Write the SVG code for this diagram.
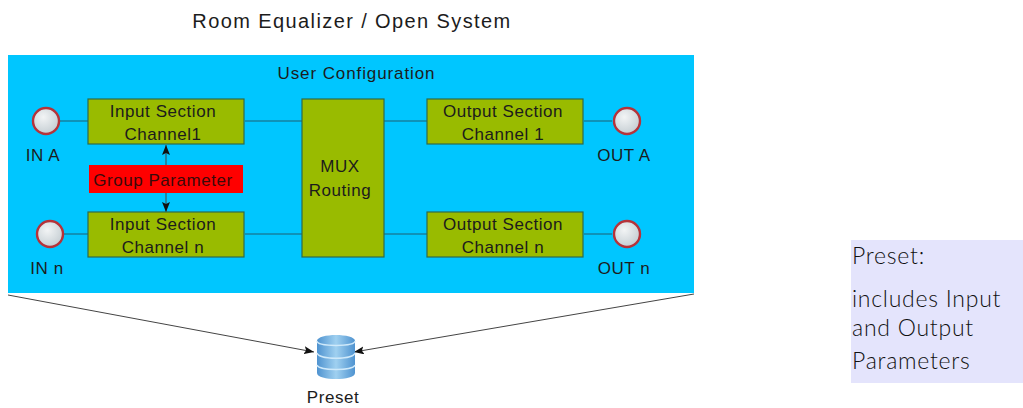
<svg xmlns="http://www.w3.org/2000/svg" width="1023" height="408" viewBox="0 0 1023 408">
<style>
text{font-family:"Liberation Sans",Arial,sans-serif;font-size:17px;letter-spacing:.55px;fill:#1c1c1c;text-anchor:middle}
.box{fill:#99bb00;stroke:#2f6b4a;stroke-width:1.2}
.port{fill:url(#portFill);stroke:#b5333a;stroke-width:2.4}
.wire{stroke:#1f5f73;stroke-width:1.2;fill:none}
.arr{stroke:#444;stroke-width:1;fill:none}
.note{font-family:"Lato","Open Sans",sans-serif;font-size:23px;letter-spacing:.75px;text-anchor:start;font-weight:300;fill:#111}
</style>
<defs>
<radialGradient id="portFill" cx="0.4" cy="0.35" r="0.8"><stop offset="0" stop-color="#f2f4f5"/><stop offset="1" stop-color="#bcc6cc"/></radialGradient>
<linearGradient id="db" x1="0" x2="1" y1="0" y2="0"><stop offset="0" stop-color="#4f93d0"/><stop offset="0.5" stop-color="#9fd0f0"/><stop offset="1" stop-color="#4f93d0"/></linearGradient>
<marker id="ah" markerWidth="11" markerHeight="8" refX="10" refY="4" orient="auto-start-reverse" markerUnits="userSpaceOnUse"><path d="M0 0L10 4L0 8L2 4Z" fill="#111"/></marker>
</defs>
<text x="352" y="28" style="font-size:20px;letter-spacing:1.4px">Room Equalizer / Open System</text>
<rect id="user-config" x="8" y="55" width="686" height="238" fill="#00c6ff"/>
<text x="356.500" y="79" style="letter-spacing:.9px">User Configuration</text>
<g id="connectors">
<path class="wire" d="M60 121H88M245 121H302M60 234H88M245 234H302M384 121H427M384 234H427M584 121H612M584 234H612"/>
<path class="arr" marker-end="url(#ah)" d="M166 165V145"/>
<path class="arr" marker-end="url(#ah)" d="M166 193V212"/>
<path class="arr" marker-end="url(#ah)" d="M8 295L314 352"/>
<path class="arr" marker-end="url(#ah)" d="M694 294L354 352"/>
</g>
<g id="in-a"><circle class="port" cx="46" cy="121" r="13"/><text x="43" y="161">IN A</text></g>
<g id="in-n"><circle class="port" cx="50" cy="234" r="13"/><text x="47" y="274">IN n</text></g>
<g id="out-a"><circle class="port" cx="627" cy="121" r="13"/><text x="624" y="161">OUT A</text></g>
<g id="out-n"><circle class="port" cx="627" cy="234" r="13"/><text x="624" y="274">OUT n</text></g>
<g id="input-1"><rect class="box" x="88" y="99" width="156" height="45"/><text x="163" y="117">Input Section</text><text x="163" y="140">Channel1</text></g>
<g id="input-n"><rect class="box" x="88" y="212" width="156" height="45"/><text x="163" y="230">Input Section</text><text x="163" y="253">Channel n</text></g>
<g id="group"><rect x="89" y="165" width="154" height="28" fill="#ff0000"/><text x="163" y="186" style="fill:#3a0a0a">Group Parameter</text></g>
<g id="mux"><rect class="box" x="302" y="99" width="82" height="158"/><text x="340" y="172">MUX</text><text x="340" y="196">Routing</text></g>
<g id="output-1"><rect class="box" x="427" y="99" width="156" height="45"/><text x="503" y="117">Output Section</text><text x="503" y="140">Channel 1</text></g>
<g id="output-n"><rect class="box" x="427" y="212" width="156" height="45"/><text x="503" y="230">Output Section</text><text x="503" y="253">Channel n</text></g>
<g id="preset">
<path d="M317 341C317 333 355 333 355 341V373C355 381 317 381 317 373Z" fill="url(#db)"/>
<path d="M317 341C317 347 355 347 355 341M317 353C319 360 353 360 355 353M317 365C319 371 353 371 355 365" fill="none" stroke="#cfe9fa" stroke-width="1.3"/>
<text x="333" y="403">Preset</text>
</g>
<g id="note">
<rect x="851" y="240" width="172" height="143" fill="#e4e4fc"/>
<text class="note" x="852" y="264">Preset:</text>
<text class="note" x="852" y="307">includes Input</text>
<text class="note" x="852" y="336">and Output</text>
<text class="note" x="852" y="369">Parameters</text>
</g>
</svg>
